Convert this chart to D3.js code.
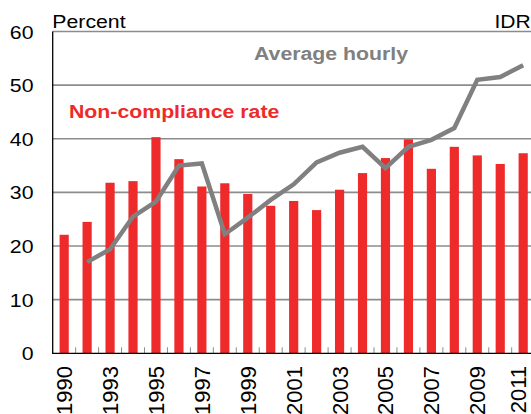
<!DOCTYPE html>
<html><head><meta charset="utf-8">
<script src="https://cdn.jsdelivr.net/npm/d3@7"></script>
<style>body{margin:0;background:#fff;}svg{display:block;font-family:"Liberation Sans",Arial,sans-serif;}</style>
</head><body><svg id="c" width="531" height="414"></svg>
<script>
const years = [1990,1992,1993,1994,1995,1996,1997,1998,1999,2000,2001,2002,2003,2004,2005,2006,2007,2008,2009,2010,2011];
const nonCompliance = [22.1,24.5,31.8,32.1,40.3,36.2,31.1,31.7,29.7,27.5,28.4,26.7,30.5,33.6,36.4,39.9,34.4,38.5,36.9,35.3,37.3];
// Average hourly wage (IDR), plotted against the left scale (right axis cut off in source)
const avgHourly = [17.0,19.4,25.5,28.3,35.0,35.4,22.2,25.3,28.6,31.5,35.6,37.4,38.5,34.5,38.5,39.8,42.0,51.0,51.5,53.7];
const hourlyYears = years.slice(1);
const yTicks = [0,10,20,30,40,50,60];
const yearLabels = [1990,1993,1995,1997,1999,2001,2003,2005,2007,2009,2011];

const svg = d3.select("#c");
const W = 531;
const mLeft = 52.7, mTop = 31.5, mBottom = 353.3, step = 22.95;
const x = d3.scaleBand().domain(years).range([mLeft, mLeft + step*years.length]).paddingInner(0.6).paddingOuter(0.3);
const y = d3.scaleLinear().domain([0,60]).range([mBottom, mTop]);
const SX = 1.12; // horizontal stretch of text as in the source

// gridlines
svg.append("g").selectAll("line").data(yTicks.filter(d=>d>0)).join("line")
  .attr("x1", mLeft).attr("x2", W).attr("y1", d=>y(d)).attr("y2", d=>y(d))
  .attr("stroke", "#8c8c8c").attr("stroke-width", 1.6);

// bars
svg.append("g").selectAll("rect").data(years).join("rect")
  .attr("x", d=>x(d)).attr("width", x.bandwidth())
  .attr("y", (d,i)=>y(nonCompliance[i])).attr("height", (d,i)=>mBottom - y(nonCompliance[i]))
  .attr("fill", "#ee2a2a");

// line
const line = d3.line().x((d,i)=>x(hourlyYears[i]) + x.bandwidth()/2).y(d=>y(d));
svg.append("path").datum(avgHourly).attr("d", line).attr("fill","none")
  .attr("stroke","#808080").attr("stroke-width",4.5).attr("stroke-linejoin","miter");

// x-axis ticks (between categories, inside)
const bounds = years.slice(1).map(d=>x(d) - x.step()*x.paddingInner()/2);
svg.append("g").selectAll("line").data(bounds).join("line")
  .attr("x1", d=>d).attr("x2", d=>d).attr("y1", mBottom-6).attr("y2", mBottom)
  .attr("stroke", "#8c8c8c").attr("stroke-width", 1);

// axes lines
svg.append("line").attr("x1", mLeft).attr("x2", mLeft).attr("y1", mTop).attr("y2", mBottom+0.6).attr("stroke","#000").attr("stroke-width",1.3);
svg.append("line").attr("x1", mLeft).attr("x2", W).attr("y1", mBottom).attr("y2", mBottom).attr("stroke","#000").attr("stroke-width",1.3);

// y tick labels
svg.append("g").selectAll("text").data(yTicks).join("text")
  .attr("transform", d=>`translate(33.5,${y(d)+7}) scale(${SX},1)`).attr("text-anchor","end")
  .attr("font-size", 19).attr("fill","#000").text(d=>d);

// x labels
svg.append("g").selectAll("text").data(yearLabels).join("text")
  .attr("transform", d=>`translate(${Math.min(x(d)+x.bandwidth()/2+8, 526)},366) rotate(-90)`)
  .attr("text-anchor","end").attr("font-size",22).attr("fill","#000").text(d=>d);

// titles
function stext(px, py, t){ return svg.append("text").attr("transform",`translate(${px},${py}) scale(${SX},1)`).text(t); }
stext(52.3, 27.5, "Percent").attr("font-size", 19);
stext(494.5, 27.5, "IDR").attr("font-size", 18.8);
stext(254, 60, "Average hourly").attr("font-size", 19).attr("font-weight","bold").attr("fill","#808080");
stext(69, 118.3, "Non-compliance rate").attr("font-size", 19).attr("font-weight","bold").attr("fill","#ee2a2a");
</script></body></html>
